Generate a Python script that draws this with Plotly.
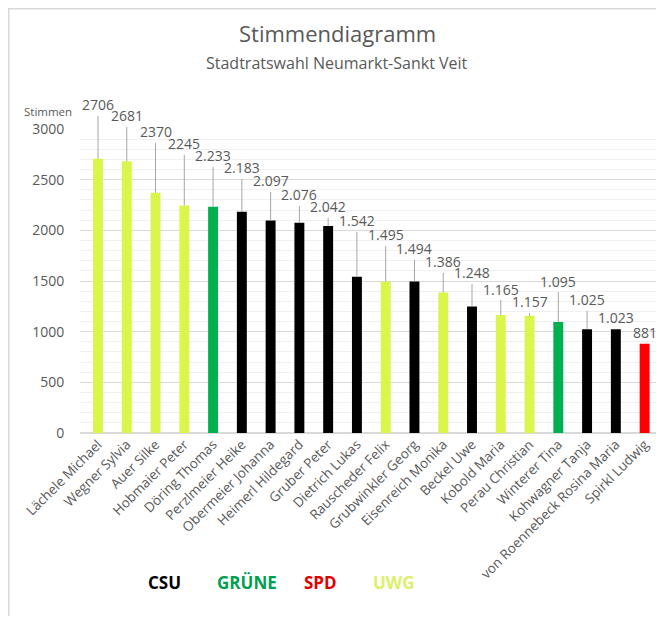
import plotly.graph_objects as go

# ---------------- data ----------------
candidates = ["Lächele Michael", "Wegner Sylvia", "Auer Silke", "Hobmaier Peter", "Döring Thomas",
              "Perzlmeier Heike", "Obermeier Johanna", "Heimerl Hildegard", "Gruber Peter",
              "Dietrich Lukas", "Rauscheder Felix", "Grubwinkler Georg", "Eisenreich Monika",
              "Beckel Uwe", "Kobold Maria", "Perau Christian", "Winterer Tina", "Kohwagner Tanja",
              "von Roennebeck Rosina Maria", "Spirkl Ludwig"]
votes = [2706, 2681, 2370, 2245, 2233, 2183, 2097, 2076, 2042, 1542, 1495, 1494, 1386,
         1248, 1165, 1157, 1095, 1025, 1023, 881]
vote_labels = ["2706", "2681", "2370", "2245", "2.233", "2.183", "2.097", "2.076", "2.042",
               "1.542", "1.495", "1.494", "1.386", "1.248", "1.165", "1.157", "1.095",
               "1.025", "1.023", "881"]
parties = ["UWG", "UWG", "UWG", "UWG", "GRÜNE", "CSU", "CSU", "CSU", "CSU", "CSU", "UWG",
           "CSU", "UWG", "CSU", "UWG", "UWG", "GRÜNE", "CSU", "CSU", "SPD"]
party_names = ["CSU", "GRÜNE", "SPD", "UWG"]
y_ticks = [0, 500, 1000, 1500, 2000, 2500, 3000]

# ---------------- style ----------------
party_colors = {"CSU": "#000000", "GRÜNE": "#00b050", "SPD": "#ff0000", "UWG": "#dcf54a"}
legend_text_colors = {"CSU": "#000000", "GRÜNE": "#00a050", "SPD": "#e00000", "UWG": "#dcf06a"}
# heights (in vote units) where the staggered data labels sit
label_heights = [3238, 3129, 2971, 2853, 2734, 2616, 2488, 2349, 2231, 2093, 1955, 1816,
                 1688, 1579, 1421, 1293, 1500, 1313, 1135, 987]

OFF = 8  # page body margin
W, H = 656, 608
ML, MR, MT, MB = 72, 5, 121, 183
FONT = "Open Sans"
GRAY = "#595959"

plot_w = W - ML - MR
plot_h = H - MT - MB


def px_x(px):
    return (px - OFF - ML) / plot_w


def px_y(py):
    return (H - MB - (py - OFF)) / plot_h


fig = go.Figure()
fig.add_trace(go.Bar(
    x=candidates, y=votes,
    marker=dict(color=[party_colors[p] for p in parties], line=dict(width=0)),
    hoverinfo="x+y", showlegend=False,
))

annotations = []
for name, v, lab, lh in zip(candidates, votes, vote_labels, label_heights):
    annotations.append(dict(
        x=name, y=v, xref="x", yref="y",
        ax=name, ay=lh, axref="x", ayref="y",
        text=lab, showarrow=True, arrowhead=0, arrowwidth=1, arrowcolor="#a6a6a6",
        standoff=0, startstandoff=0,
        font=dict(family=FONT, size=14, color=GRAY),
        xanchor="center", yanchor="middle",
    ))

# title and subtitle
annotations.append(dict(text="Stimmendiagramm", x=px_x(337), y=px_y(33), xref="paper", yref="paper",
                        showarrow=False, font=dict(family=FONT, size=22, color=GRAY),
                        xanchor="center", yanchor="middle"))
annotations.append(dict(text="Stadtratswahl Neumarkt-Sankt Veit", x=px_x(337), y=px_y(63),
                        xref="paper", yref="paper", showarrow=False,
                        font=dict(family=FONT, size=16, color=GRAY),
                        xanchor="center", yanchor="middle"))
# axis caption
annotations.append(dict(text="Stimmen", x=px_x(48), y=px_y(112), xref="paper", yref="paper",
                        showarrow=False, font=dict(family=FONT, size=11.5, color=GRAY),
                        xanchor="center", yanchor="middle"))
# party key
for p, cx in zip(party_names, [164, 247, 320, 394]):
    annotations.append(dict(text="<b>%s</b>" % p, x=px_x(cx), y=px_y(582), xref="paper",
                            yref="paper", showarrow=False,
                            font=dict(family=FONT, size=17, color=legend_text_colors[p]),
                            xanchor="center", yanchor="middle"))

shapes = [
    dict(type="line", xref="paper", yref="paper", x0=px_x(OFF), x1=px_x(W + OFF + 5),
         y0=px_y(OFF + 0.8), y1=px_y(OFF + 0.8), line=dict(color="#d9d9d9", width=1.5)),
    dict(type="line", xref="paper", yref="paper", x0=px_x(OFF + 0.8), x1=px_x(OFF + 0.8),
         y0=px_y(OFF), y1=px_y(H + OFF + 5), line=dict(color="#d9d9d9", width=1.5)),
]

fig.update_layout(
    width=W, height=H,
    margin=dict(l=ML, r=MR, t=MT, b=MB, autoexpand=False),
    paper_bgcolor="white", plot_bgcolor="white",
    bargap=0.655,
    annotations=annotations, shapes=shapes,
    font=dict(family=FONT, color=GRAY),
    xaxis=dict(
        tickangle=-45, tickfont=dict(family=FONT, size=13.5, color=GRAY),
        showgrid=False, showline=False, ticks="", fixedrange=True,
    ),
    yaxis=dict(
        range=[0, 3000], tickvals=y_ticks, ticktext=[str(t) for t in y_ticks],
        tickfont=dict(family=FONT, size=14, color=GRAY),
        showgrid=True, gridcolor="#d9d9d9", gridwidth=1.2,
        zeroline=True, zerolinecolor="#d9d9d9", zerolinewidth=1.5,
        ticks="outside", ticklen=12, tickcolor="rgba(0,0,0,0)",
        minor=dict(dtick=100, tick0=0, showgrid=True, gridcolor="#f0f0f0", gridwidth=1),
        showline=False, fixedrange=True,
    ),
)

fig.write_html("out.html")
